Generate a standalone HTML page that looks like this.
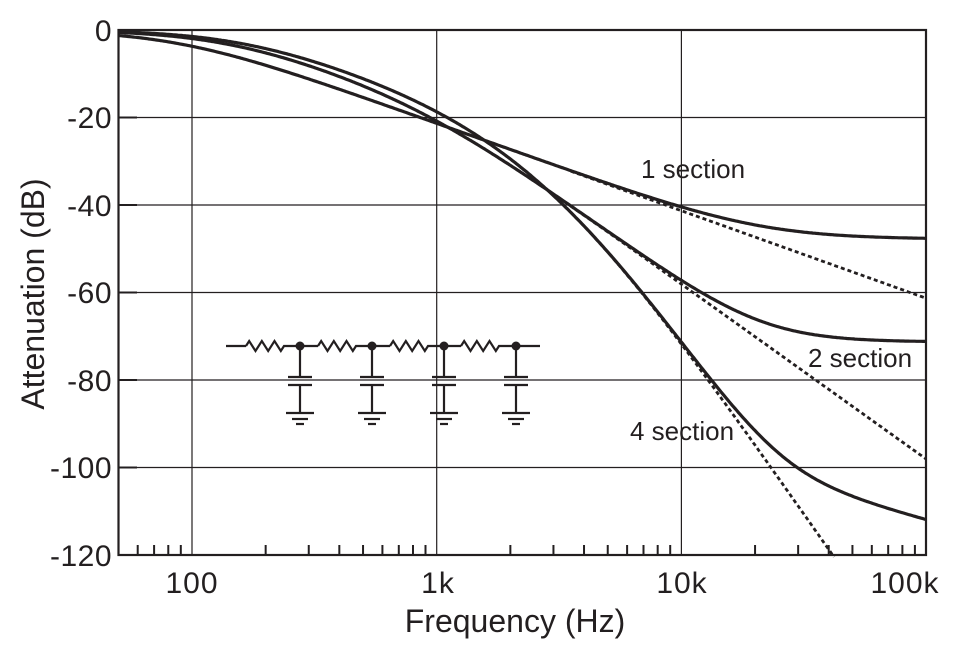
<!DOCTYPE html>
<html><head><meta charset="utf-8"><style>
html,body{margin:0;padding:0;background:#fff;}
svg{display:block;font-family:"Liberation Sans",Arial,sans-serif;}
</style></head><body>
<svg id="s" width="961" height="651" viewBox="0 0 961 651" xmlns="http://www.w3.org/2000/svg">
<g id="grid" stroke="#231f20" stroke-width="1.2" fill="none"></g>
<rect x="118.5" y="30" width="807.5" height="525" fill="none" stroke="#231f20" stroke-width="2.2"/>
<g id="ticks" stroke="#231f20" stroke-width="2" fill="none"></g>
<g id="curves" fill="none" stroke="#231f20" stroke-width="3.2" stroke-linejoin="round"></g>
<g fill="#231f20" font-size="30" text-anchor="end" letter-spacing="0.5">
<text x="112" y="41">0</text>
<text x="112" y="128">-20</text>
<text x="112" y="216">-40</text>
<text x="112" y="303">-60</text>
<text x="112" y="391">-80</text>
<text x="112" y="478">-100</text>
<text x="112" y="566">-120</text>
</g>
<g fill="#231f20" font-size="30" text-anchor="middle" letter-spacing="1">
<text x="192" y="593">100</text>
<text x="438" y="593">1k</text>
<text x="682" y="593">10k</text>
<text x="905" y="593">100k</text>
</g>
<g fill="#231f20" font-size="32" text-anchor="middle">
<text x="515" y="632">Frequency (Hz)</text>
<text transform="translate(44,294) rotate(-90)">Attenuation (dB)</text>
</g>
<g fill="#231f20" font-size="26">
<text x="641" y="178">1 section</text>
<text x="808" y="367">2 section</text>
<text x="630" y="440">4 section</text>
</g>
<g id="circ" stroke="#231f20" stroke-width="2.2" fill="none"></g>
</svg>
<script>
var X0=192,DEC=244.7,Y0=30,DB=87.5/20;
function fx(f){return X0+DEC*Math.log10(f/100);}
function fy(d){return Y0-d*DB;}
var g=document.getElementById('grid'),t=document.getElementById('ticks'),c=document.getElementById('curves'),ci=document.getElementById('circ');
var NS='http://www.w3.org/2000/svg';
function el(p,tag,a){var e=document.createElementNS(NS,tag);for(var k in a)e.setAttribute(k,a[k]);p.appendChild(e);return e;}
for(var d=-20;d>=-100;d-=20)el(g,'line',{x1:118,x2:926,y1:fy(d),y2:fy(d)});
[100,1000,10000].forEach(function(f){el(g,'line',{x1:fx(f),x2:fx(f),y1:30,y2:555});});
for(var d=0;d>=-120;d-=20)el(t,'line',{x1:118,x2:137,y1:fy(d),y2:fy(d)});
[50,60,70,80,90,200,300,400,500,600,700,800,900,2000,3000,4000,5000,6000,7000,8000,9000,20000,30000,40000,50000,60000,70000,80000,90000].forEach(function(f){
 var x=fx(f);if(x>120&&x<925)el(t,'line',{x1:x,x2:x,y1:555,y2:545});});
function mul(a,b){return [a[0]*b[0]-a[1]*b[1],a[0]*b[1]+a[1]*b[0]];}
function add(a,b){return [a[0]+b[0],a[1]+b[1]];}
function ladder(n,w){
 var s=[0,w];
 var A=[1,0],B=[0,0],C=[0,0],D=[1,0];
 for(var i=0;i<n;i++){
  var a=add([1,0],s),b=[1,0],cc=s,dd=[1,0];
  var nA=add(mul(A,a),mul(B,cc)),nB=add(mul(A,b),mul(B,dd)),nC=add(mul(C,a),mul(D,cc)),nD=add(mul(C,b),mul(D,dd));
  A=nA;B=nB;C=nC;D=nD;}
 return 1/Math.hypot(A[0],A[1]);}
var sets=[
 {n:1,tau:1/(2*Math.PI*86),fl:function(f){return -47.8;},p:2},
 {n:2,tau:4.5e-4,fl:function(f){return -71.3;},p:1.3},
 {n:4,tau:1.21e-4,fl:function(f){return -112-15*Math.log10(f/1e5);},p:1}
];
sets.forEach(function(st){
 var ps='',pd='';
 for(var i=0;i<=500;i++){
  var f=50*Math.pow(2000,i/500);var w=2*Math.PI*f*st.tau;
  var h=ladder(st.n,w);var fl=Math.pow(10,st.fl(f)/20);
  var tot=Math.pow(Math.pow(h,st.p)+Math.pow(fl,st.p),1/st.p);
  var yd=20*Math.log10(h),yt=20*Math.log10(tot);
  var x=fx(f);if(x<118.5)x=118.5;if(x>926)x=926;
  ps+=(i?'L':'M')+x.toFixed(1)+' '+fy(Math.max(yt,-120)).toFixed(1);
  if(f>=3500&&yd>=-120.5){pd+=(pd?'L':'M')+x.toFixed(1)+' '+fy(yd).toFixed(1);}
 }
 el(c,'path',{d:ps});
 el(c,'path',{d:pd,'stroke-dasharray':'4 3','stroke-width':'2.8'});
});
var yc=346;
el(ci,'line',{x1:226,x2:246,y1:yc,y2:yc});
var rs=[[246,284],[318,356],[390,428],[461,499]],nodes=[300,372,444,516];
rs.forEach(function(r,i){
 var d='M'+r[0]+' '+yc;var n=6,w=(r[1]-r[0])/n;
 for(var k=0;k<n;k++){d+='L'+(r[0]+w*(k+0.5))+' '+(yc+(k%2?5:-5));}
 d+='L'+r[1]+' '+yc+'L'+nodes[i]+' '+yc;
 if(i<3)d+='L'+rs[i+1][0]+' '+yc;else d+='L540 '+yc;
 el(ci,'path',{d:d});
});
nodes.forEach(function(x){
 el(ci,'circle',{cx:x,cy:yc,r:4.5,fill:'#231f20',stroke:'none'});
 el(ci,'line',{x1:x,x2:x,y1:yc,y2:377});
 el(ci,'line',{x1:x-12,x2:x+12,y1:377,y2:377});
 el(ci,'line',{x1:x-12,x2:x+12,y1:385,y2:385});
 el(ci,'line',{x1:x,x2:x,y1:385,y2:413});
 el(ci,'line',{x1:x-14,x2:x+14,y1:413,y2:413});
 el(ci,'line',{x1:x-8,x2:x+8,y1:419,y2:419});
 el(ci,'line',{x1:x-4,x2:x+4,y1:424,y2:424});
});
</script>
</body></html>
